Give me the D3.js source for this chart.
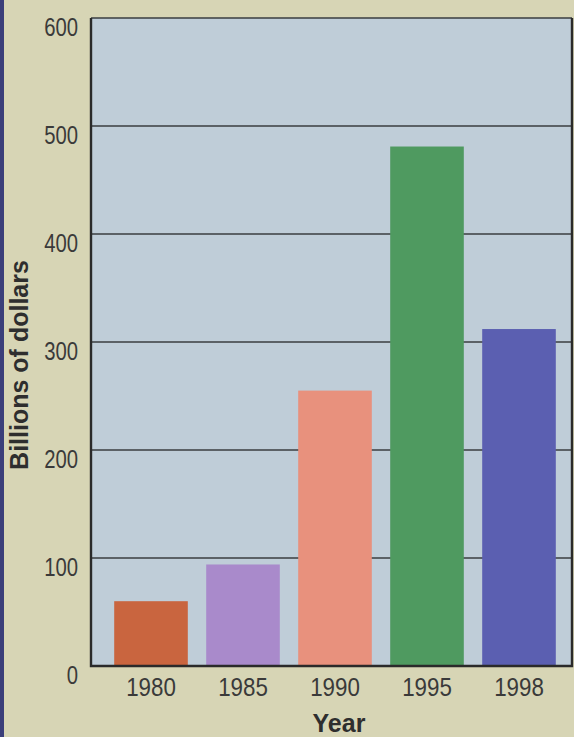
<!DOCTYPE html>
<html>
<head>
<meta charset="utf-8">
<script src="https://cdn.jsdelivr.net/npm/d3@7"></script>
<style>
  html, body { margin: 0; padding: 0; background: #d7d5b5; }
  svg { display: block; }
</style>
</head>
<body>
<div id="chart"></div>
<script>
// data
const years = ["1980", "1985", "1990", "1995", "1998"];
const values = [60, 94, 255, 481, 312];
const barColors = ["#c9653f", "#a98acb", "#e8917d", "#4f9a60", "#5b5fb1"];
const yTicks = [0, 100, 200, 300, 400, 500, 600];

// config
const width = 574;
const height = 737;
const margin = { top: 18, right: 2, bottom: 71, left: 91 };
const squeezeY = 0.78; // labels in the original use a condensed face
const squeezeX = 0.86;

const svg = d3.select("#chart")
  .append("svg")
  .attr("width", width)
  .attr("height", height);

svg.append("rect")
  .attr("width", width)
  .attr("height", height)
  .attr("fill", "#d7d5b5");

// thin dark page edge on the left
svg.append("rect")
  .attr("x", 0).attr("y", 0)
  .attr("width", 4).attr("height", height)
  .attr("fill", "#3b3f7a");

// scales
const x = d3.scaleBand()
  .domain(years)
  .range([margin.left + 14, width - margin.right - 7])
  .paddingInner(0.2)
  .paddingOuter(0.1);

const y = d3.scaleLinear()
  .domain([0, 600])
  .range([height - margin.bottom, margin.top]);

// plot background
svg.append("rect")
  .attr("x", margin.left)
  .attr("y", y(600))
  .attr("width", width - margin.right - margin.left)
  .attr("height", y(0) - y(600))
  .attr("fill", "#bfcdd8");

// gridlines
svg.append("g")
  .selectAll("line")
  .data(yTicks.filter(d => d > 0))
  .join("line")
  .attr("x1", margin.left)
  .attr("x2", width - margin.right)
  .attr("y1", d => y(d))
  .attr("y2", d => y(d))
  .attr("stroke", "#3a3d40")
  .attr("stroke-width", 1.6);

// bars
svg.selectAll("rect.bar")
  .data(years)
  .join("rect")
  .attr("class", "bar")
  .attr("x", d => x(d))
  .attr("y", (d, i) => y(values[i]))
  .attr("width", x.bandwidth())
  .attr("height", (d, i) => y(0) - y(values[i]))
  .attr("fill", (d, i) => barColors[i]);

// frame: left, bottom, right
svg.append("path")
  .attr("d", `M${margin.left},${y(600)}V${y(0)}H${width - margin.right}V${y(600)}`)
  .attr("fill", "none")
  .attr("stroke", "#2a2a2a")
  .attr("stroke-width", 2.4);

// axes
const font = "'Liberation Sans', Arial, sans-serif";

const yAxis = d3.axisLeft(y)
  .tickValues(yTicks)
  .tickSize(0)
  .tickPadding(12);

svg.append("g")
  .attr("transform", "translate(" + margin.left + ", 0)")
  .call(yAxis)
  .call(g => g.select(".domain").remove())
  .call(g => g.selectAll(".tick text")
    .attr("fill", "#3a3a3a")
    .attr("x", -13 / squeezeY)
    .attr("dy", "0.66em")
    .attr("transform", `scale(${squeezeY},1)`)
    .style("font-family", font)
    .style("font-size", "26px"));

const xAxis = d3.axisBottom(x)
  .tickSize(0)
  .tickPadding(12);

svg.append("g")
  .attr("transform", "translate(0, " + y(0) + ")")
  .call(xAxis)
  .call(g => g.select(".domain").remove())
  .call(g => g.selectAll(".tick text")
    .attr("fill", "#3a3a3a")
    .attr("transform", `scale(${squeezeX},1)`)
    .style("font-family", font)
    .style("font-size", "26px"));

// axis titles
svg.append("text")
  .attr("transform", "translate(28, " + 365 + ") rotate(-90)")
  .attr("text-anchor", "middle")
  .style("font-family", font)
  .style("font-size", "25px")
  .style("font-weight", "bold")
  .style("fill", "#2e2e2e")
  .text("Billions of dollars");

svg.append("text")
  .attr("x", 339)
  .attr("y", 732)
  .attr("text-anchor", "middle")
  .style("font-family", font)
  .style("font-size", "25px")
  .style("font-weight", "bold")
  .style("fill", "#2e2e2e")
  .text("Year");
</script>
</body>
</html>
